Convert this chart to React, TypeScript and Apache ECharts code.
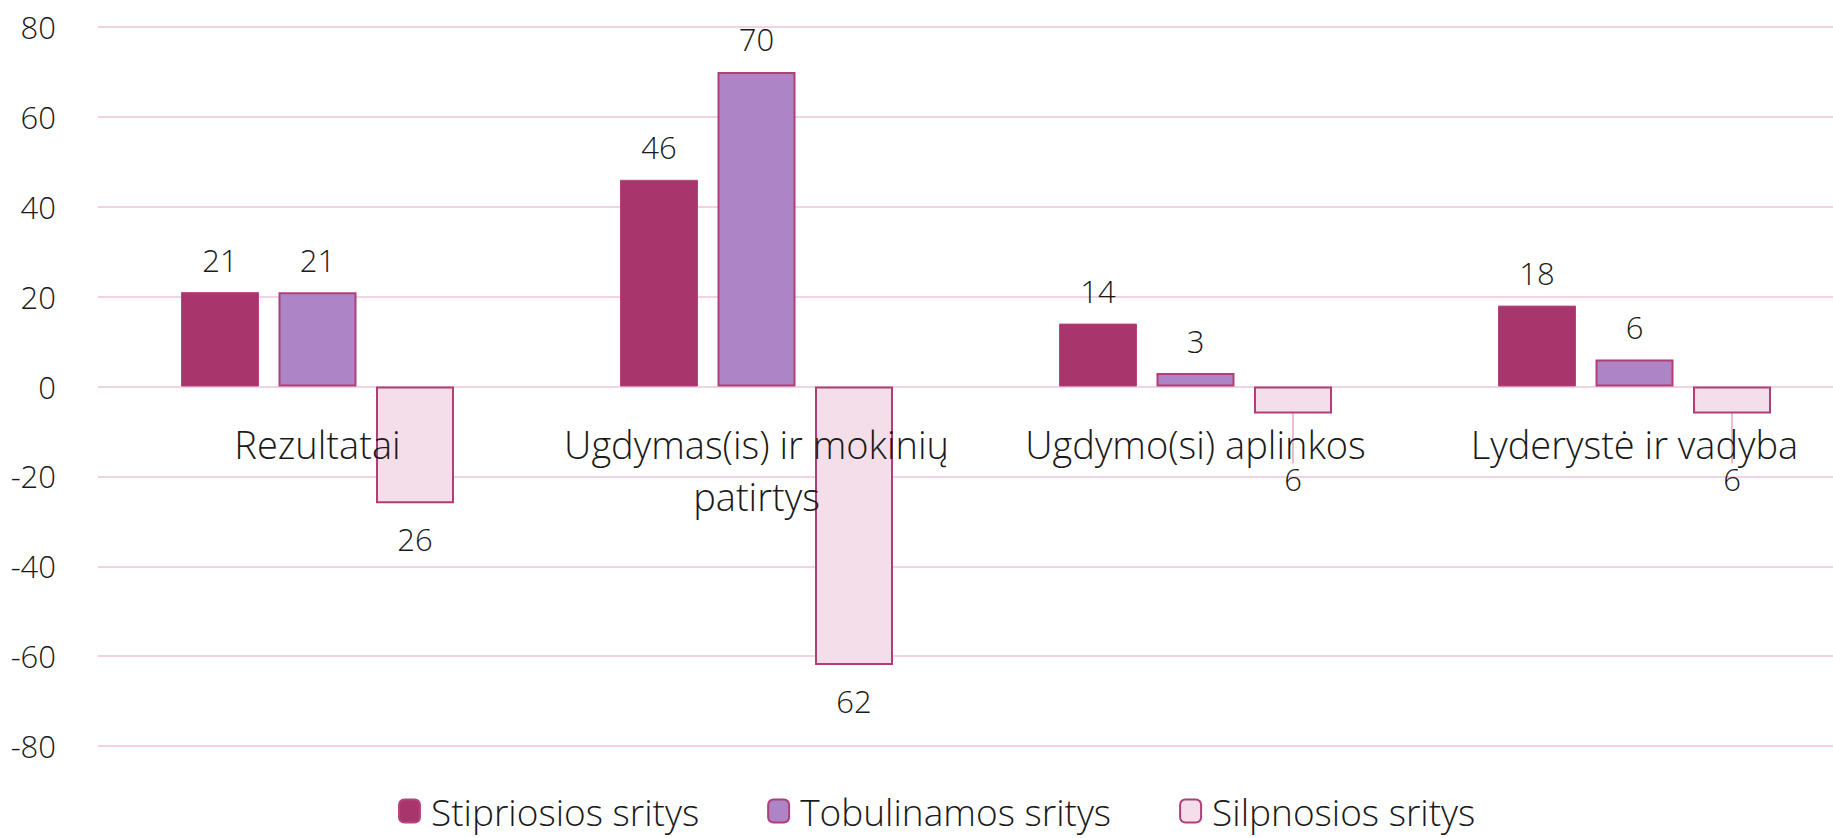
import React, { useEffect, useRef } from "react";
import * as echarts from "echarts";

const categories = ["Rezultatai", "Ugdymas(is) ir mokinių\npatirtys", "Ugdymo(si) aplinkos", "Lyderystė ir vadyba"];
const seriesNames = ["Stipriosios sritys", "Tobulinamos sritys", "Silpnosios sritys"];
const strong = [21, 46, 14, 18];
const improve = [21, 70, 3, 6];
const weak = [-26, -62, -6, -6];
const weakLabelShifted = [false, false, true, true];
const yTicks = [-80, -60, -40, -20, 0, 20, 40, 60, 80];

const FONT = "'Open Sans', 'Segoe UI', sans-serif";
const TXT = "#1a1a1a";

export default function App() {
  const ref = useRef<HTMLDivElement>(null);
  useEffect(() => {
    document.body.style.margin = "0";
    if (!ref.current) return;
    const chart = echarts.init(ref.current, null, { renderer: "svg" });
    const labelBase = {
      show: true,
      fontFamily: FONT,
      fontSize: 31,
      fontWeight: 300 as any,
      color: TXT,
      formatter: (p: any) => String(Math.abs(p.value)),
    };
    const gridTop = 27;
    const plotH = 719;
    const yMin = yTicks[0];
    const yMax = yTicks[yTicks.length - 1];
    const zeroOffset = -(plotH * (0 - yMin)) / (yMax - yMin);
    chart.setOption({
      animation: false,
      textStyle: { fontFamily: FONT },
      grid: {
        left: 98,
        top: gridTop,
        width: 1756,
        height: plotH,
        containLabel: false,
        outerBoundsMode: "none",
      },
      legend: {
        data: seriesNames,
        left: 398,
        top: 791,
        padding: 0,
        itemWidth: 21,
        itemHeight: 23,
        itemGap: 68,
        textStyle: {
          fontFamily: FONT,
          fontSize: 37,
          lineHeight: 40,
          fontWeight: 300,
          color: TXT,
          padding: [0, 0, 0, 6],
        },
      },
      xAxis: {
        type: "category",
        data: categories,
        offset: zeroOffset,
        z: 5,
        axisLine: { show: false, onZero: false },
        axisTick: { show: false },
        axisLabel: {
          fontFamily: FONT,
          fontSize: 38,
          fontWeight: 300,
          color: TXT,
          margin: 31,
          lineHeight: 52,
          interval: 0,
        },
      },
      yAxis: {
        type: "value",
        min: yMin,
        max: yMax,
        interval: 20,
        axisLine: { show: false },
        axisTick: { show: false },
        splitLine: { lineStyle: { color: "#F2D3E3", width: 2 } },
        axisLabel: {
          fontFamily: FONT,
          fontSize: 31,
          fontWeight: 300,
          color: TXT,
          margin: 42,
        },
      },
      series: [
        {
          name: seriesNames[0],
          type: "bar",
          data: strong,
          barWidth: 78,
          barGap: "25%",
          itemStyle: { color: "#A8356B", borderColor: "#B5457E", borderWidth: 1 },
          label: { ...labelBase, position: "top", distance: 17 },
        },
        {
          name: seriesNames[1],
          type: "bar",
          data: improve,
          barWidth: 78,
          barGap: "25%",
          itemStyle: { color: "#AD84C5", borderColor: "#B03F78", borderWidth: 2 },
          label: { ...labelBase, position: "top", distance: 17 },
        },
        {
          name: seriesNames[2],
          type: "bar",
          data: weak.map((v, i) => ({
            value: v,
            labelLine: { show: weakLabelShifted[i] },
          })),
          barWidth: 78,
          barGap: "25%",
          itemStyle: { color: "#F4DEEA", borderColor: "#B03F78", borderWidth: 2 },
          label: { ...labelBase, position: "bottom", distance: 20 },
          labelLine: { show: true, lineStyle: { color: "#E8A3C6", width: 1.5 } },
          labelLayout: (p: any) => (weakLabelShifted[p.dataIndex] ? { dy: 30 } : {}),
        },
      ],
    });
    return () => chart.dispose();
  }, []);
  return <div ref={ref} style={{ width: 1833, height: 838 }} />;
}
